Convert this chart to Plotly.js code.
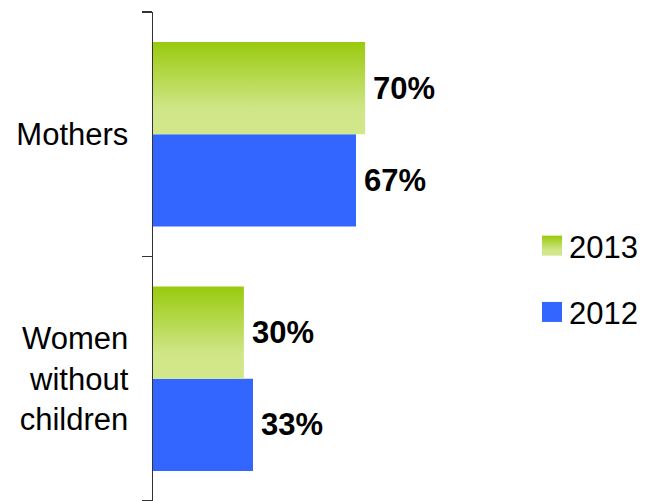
<!DOCTYPE html>
<html>
<head>
<meta charset="utf-8">
<script src="https://cdn.plot.ly/plotly-3.0.1.min.js"></script>
<style>html,body{margin:0;padding:0;background:#fff;}#chart{width:645px;height:501px;}</style>
</head>
<body>
<div id="chart"></div>
<script>
const categories = ['Women<br>without<br>children', 'Mothers'];
const values2012 = [33, 67];
const values2013 = [30, 70];
const labels2012 = ['33%', '67%'];
const labels2013 = ['30%', '70%'];

const green = '#b5d955';
const blue = '#3366ff';
const FONT = 'Arial, "Liberation Sans", sans-serif';

const traces = [
  {
    type: 'bar', orientation: 'h', name: '2012',
    y: categories, x: values2012, text: labels2012,
    textposition: 'outside', cliponaxis: false,
    textfont: {family: FONT, size: 31, color: '#000', weight: 'bold'},
    marker: {color: blue}, legendgroup: 'g2012', legendrank: 2
  },
  {
    type: 'bar', orientation: 'h', name: '2013',
    y: categories, x: values2013, text: labels2013,
    textposition: 'outside', cliponaxis: false,
    textfont: {family: FONT, size: 31, color: '#000', weight: 'bold'},
    marker: {color: green}, legendgroup: 'g2013', legendrank: 1
  }
];

const layout = {
  width: 645, height: 501,
  margin: {l: 153, r: 189, t: 12, b: 0, pad: 0},
  paper_bgcolor: '#fff', plot_bgcolor: '#fff',
  barmode: 'group', bargap: 0.245, bargroupgap: 0,
  font: {family: FONT, color: '#000'},
  xaxis: {range: [0, 100], visible: false, showgrid: false, zeroline: false},
  yaxis: {
    type: 'category', categoryorder: 'array', categoryarray: categories,
    range: [-0.5, 1.5], tickson: 'boundaries',
    showline: true, linecolor: '#333333', linewidth: 1.5,
    ticks: 'outside', ticklen: 10, tickcolor: '#333333', tickwidth: 1.5,
    showgrid: false, zeroline: false,
    tickfont: {family: FONT, size: 31, color: '#000'},
    ticklabelstandoff: 17
  },
  showlegend: true,
  legend: {
    x: 1.241, xanchor: 'left', xref: 'paper', y: 0.454, yanchor: 'middle',
    traceorder: 'grouped', tracegroupgap: 23,
    font: {family: FONT, size: 31, color: '#000'},
    bgcolor: 'rgba(0,0,0,0)', itemwidth: 30
  }
};

Plotly.newPlot('chart', traces, layout, {displayModeBar: false, staticPlot: true}).then(function(gd) {
  const svgNS = 'http://www.w3.org/2000/svg';
  const svg = gd.querySelector('.main-svg');
  let defs = svg.querySelector('defs');
  if (!defs) { defs = document.createElementNS(svgNS, 'defs'); svg.insertBefore(defs, svg.firstChild); }
  const lg = document.createElementNS(svgNS, 'linearGradient');
  lg.setAttribute('id', 'grad2013');
  lg.setAttribute('x1', '0'); lg.setAttribute('y1', '0');
  lg.setAttribute('x2', '0'); lg.setAttribute('y2', '1');
  [['0%', '#99ca0d'], ['72%', '#cfe687'], ['100%', '#d2e78c']].forEach(function(s) {
    const st = document.createElementNS(svgNS, 'stop');
    st.setAttribute('offset', s[0]); st.setAttribute('stop-color', s[1]);
    lg.appendChild(st);
  });
  defs.appendChild(lg);
  const barTraces = gd.querySelectorAll('.barlayer .trace');
  if (barTraces[1]) {
    barTraces[1].querySelectorAll('path').forEach(function(p) { p.style.fill = 'url(#grad2013)'; });
  }
  gd.querySelectorAll('.barlayer text.bartext').forEach(function(t) { t.setAttribute('dx', '5'); });
  gd.querySelectorAll('.legend .traces').forEach(function(t) {
    const txt = t.querySelector('.legendtext');
    const pts = t.querySelectorAll('.legendpoints path');
    pts.forEach(function(p) {
      p.setAttribute('d', 'M13,10H-7V-10H13Z');
      p.style.strokeWidth = '0';
      if (txt && txt.textContent === '2013') p.style.fill = 'url(#grad2013)';
    });
  });
});
</script>
</body>
</html>
